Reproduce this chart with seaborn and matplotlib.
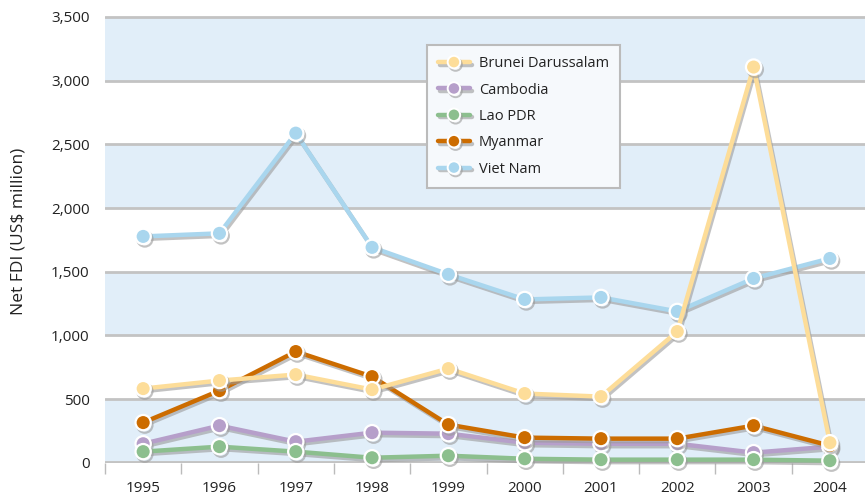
import numpy as np
import pandas as pd
import matplotlib
matplotlib.use('Agg')
import matplotlib.pyplot as plt
import matplotlib.patheffects as pe
from matplotlib.lines import Line2D
from matplotlib.ticker import FuncFormatter, MultipleLocator
import seaborn as sns

# net FDI per country, US$ million
years = [1995, 1996, 1997, 1998, 1999, 2000, 2001, 2002, 2003, 2004]
brunei = [582, 645, 692, 574, 739, 543, 519, 1030, 3107, 157]
cambodia = [149, 291, 165, 236, 228, 157, 149, 149, 79, 126]
lao = [87, 126, 87, 39, 55, 31, 24, 24, 24, 16]
myanmar = [315, 566, 873, 676, 299, 197, 189, 189, 291, 134]
vietnam = [1777, 1801, 2588, 1691, 1479, 1282, 1298, 1188, 1447, 1604]

countries = ['Brunei Darussalam', 'Cambodia', 'Lao PDR', 'Myanmar', 'Viet Nam']
colours = ['#FDDD99', '#B69FCA', '#8CBF8E', '#CC6C00', '#A9D6EE']
series = [brunei, cambodia, lao, myanmar, vietnam]
# drawing order, bottom to top
zorders = [6, 3, 5, 4, 2]

sns.set_theme(style='white')
plt.rcParams['font.family'] = ['Open Sans', 'DejaVu Sans']

fig = plt.figure(figsize=(8.65, 5.0), dpi=100)
ax = fig.add_axes([0.1214, 0.0746, 0.8786, 0.9254])

# shaded bands and grid
for lo in [0, 1000, 2000, 3000]:
    ax.axhspan(lo, lo + 500, color='#E1EEF9', zorder=0, lw=0)
for v in range(500, 3501, 500):
    ax.axhline(v, color='#C3C3C3', lw=2, zorder=1)
ax.axhline(0, color='#C3C3C3', lw=3.5, zorder=1)

shadow = [pe.SimpleLineShadow(offset=(1.2, -1.8), shadow_color='#9A9A9A', alpha=0.6),
          pe.Normal()]

handles = []
for name, col, vals, z in zip(countries, colours, series, zorders):
    df = pd.DataFrame({'year': years, 'fdi': vals})
    sns.lineplot(data=df, x='year', y='fdi', ax=ax, color=col, lw=3.2,
                 marker='o', markersize=11, markeredgecolor='white',
                 markeredgewidth=1.6, zorder=z, clip_on=False,
                 path_effects=shadow, legend=False)
    handles.append(Line2D([], [], color=col, lw=3.2, marker='o', markersize=9,
                          markeredgecolor='white', markeredgewidth=1.4,
                          path_effects=shadow, label=name))

ax.set_xlim(1994.5, 2004.46)
ax.set_ylim(0, 3500 * 462.7 / 445.7)
ax.set_xticks(years)
ax.xaxis.set_minor_locator(MultipleLocator(1, offset=0.5))
ax.tick_params(axis='x', which='major', length=0, labelsize=11,
               labelcolor='#222222', pad=13)
ax.tick_params(axis='x', which='minor', length=8, width=1, color='#BBBBBB',
               direction='out', bottom=True)
ax.set_yticks(range(0, 3501, 500))
ax.yaxis.set_major_formatter(FuncFormatter(lambda v, p: f'{int(v):,}'))
ax.tick_params(axis='y', length=0, labelsize=11, labelcolor='#222222', pad=11)
for s in ax.spines.values():
    s.set_visible(False)
ax.set_xlabel('')
ax.set_ylabel('Net FDI (US$ million)', fontsize=12.5, color='#222222', labelpad=18)

leg = ax.legend(handles=handles, loc='upper left', bbox_to_anchor=(0.414, 0.918),
                fontsize=10.5, frameon=True, fancybox=False, handlelength=2.2,
                labelspacing=0.78, borderpad=0.75, handletextpad=0.6)
leg.get_frame().set_facecolor('#F6F9FC')
leg.get_frame().set_edgecolor('#BBBBBB')
leg.get_frame().set_linewidth(1.5)
leg.get_frame().set_alpha(1)
leg.set_zorder(10)
for t in leg.get_texts():
    t.set_color('#222222')

fig.savefig('out.png', dpi=100)
